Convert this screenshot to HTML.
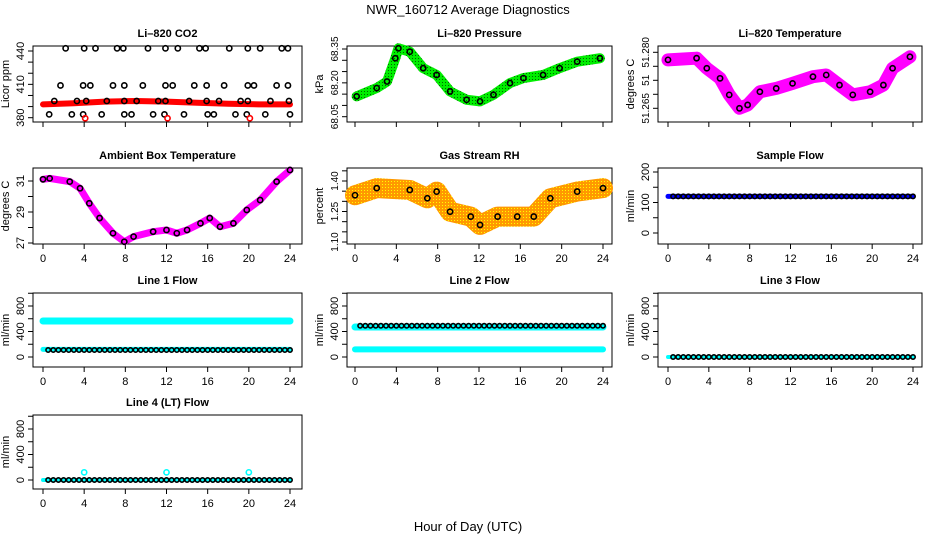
<!DOCTYPE html>
<html><head><meta charset="utf-8">
<style>
html,body{margin:0;padding:0;background:#fff;}
svg{display:block;font-family:"Liberation Sans",sans-serif;}
</style></head>
<body>
<svg id="c" width="936" height="540" viewBox="0 0 936 540">
<defs>
<pattern id="rhpat" width="3" height="3" patternUnits="userSpaceOnUse"><rect width="3" height="3" fill="#ff9900"/><rect x="1" y="1" width="1" height="1" fill="#ffff00"/></pattern>
<pattern id="grpat" width="3" height="3" patternUnits="userSpaceOnUse"><rect width="3" height="3" fill="#00ee00"/><rect x="1" y="1" width="1" height="1" fill="#006600"/></pattern>
</defs>
<text x="468" y="14" text-anchor="middle" font-size="13">NWR_160712  Average Diagnostics</text>
<text x="468" y="531" text-anchor="middle" font-size="13">Hour of Day (UTC)</text>
</svg>
<script>
// ---- data ----
const xTicks = [0,4,8,12,16,20,24];
// CO2
const co2BandHours = [0,3,6,9,12,15,18,21,24];
const co2BandVals = [392,393,394.5,395,394.5,393.5,392.5,392,392];
const co2TopHours = [2.2,4.0,5.1,7.2,7.8,10.2,11.9,13.1,15.2,15.8,18.1,19.9,21.1,23.2,23.8];
const co2MidHours = [1.7,3.9,4.6,6.8,7.9,9.7,11.9,12.6,14.7,15.9,17.6,19.9,20.5,22.7,23.8];
const co2LowHours = [1.1,3.3,4.2,6.2,7.9,9.1,11.2,11.9,14.2,15.9,17.1,19.2,19.9,22.1,23.9];
const co2BotHours = [0.6,2.8,3.9,5.7,7.9,8.6,10.7,11.8,13.7,16.0,16.6,18.7,19.8,21.6,24.0];
const co2RowVals = [442.4,409,395,383];
const co2RedHours = [4.1,12.1,20.1];
const co2RedVal = 379.5;
// Pressure
const presHours = [0.16,2.1,3.1,3.9,4.2,5.3,6.6,7.9,9.2,10.8,12.1,13.4,15.0,16.3,18.2,19.8,21.5,23.7];
const presVals = [68.14,68.177,68.206,68.309,68.353,68.338,68.265,68.235,68.162,68.125,68.118,68.147,68.199,68.221,68.235,68.265,68.294,68.309];
// Li-820 temperature
const tempHours = [0,2.8,3.8,5.1,6.0,7.0,7.8,9.0,10.6,12.2,14.2,15.5,16.8,18.1,19.8,21.1,22.0,23.7];
const tempVals = [51.2823,51.2829,51.2793,51.2757,51.2698,51.265,51.2662,51.2709,51.2721,51.2739,51.2763,51.2769,51.2733,51.2698,51.2709,51.2733,51.2793,51.2834];
// Ambient box temperature
const ambHours = [0,0.65,2.6,3.6,4.5,5.5,6.8,7.9,8.8,10.7,12.0,13.0,14.0,15.3,16.2,17.2,18.5,19.8,21.1,22.7,24];
const ambVals = [31.11,31.17,30.96,30.53,29.56,28.61,27.63,27.08,27.41,27.73,27.84,27.63,27.84,28.27,28.61,28.05,28.27,29.13,29.77,30.96,31.71];
// RH
const rhHours = [0,2.1,5.3,7.0,7.9,9.2,11.2,12.1,13.8,15.7,17.3,18.9,21.5,24];
const rhVals = [1.33,1.365,1.356,1.315,1.348,1.249,1.225,1.184,1.225,1.225,1.225,1.315,1.348,1.365];
// Flows
const flowHours = [0.5,1,1.5,2,2.5,3,3.5,4,4.5,5,5.5,6,6.5,7,7.5,8,8.5,9,9.5,10,10.5,11,11.5,12,12.5,13,13.5,14,14.5,15,15.5,16,16.5,17,17.5,18,18.5,19,19.5,20,20.5,21,21.5,22,22.5,23,23.5,24];
const sampleFlow = 120;
const line1Hi = 565, line1Lo = 120, line1Black = 110;
const line2Hi = 470, line2Lo = 120, line2Black = 490;
const line3Val = 0;
const line4Val = 0, line4Spikes = [4,12,20], line4SpikeVal = 120;

// ---- layout ----
const svg = document.getElementById('c');
const NS = 'http://www.w3.org/2000/svg';
function mk(tag, attrs, parent){const e=document.createElementNS(NS,tag);for(const k in attrs)e.setAttribute(k,attrs[k]);(parent||svg).appendChild(e);return e;}
const cols = [{l:33,r:302,x0:43,x24:290},{l:347,r:612,x0:355,x24:603},{l:658,r:922,x0:668,x24:913}];
const rows = [{t:46,b:122},{t:168,b:244},{t:293,b:367},{t:415,b:489}];

function panel(name,title,ci,ri,ylab,v1,y1,v2,y2,ticks,labels,showX,fs){
  const c=cols[ci],r=rows[ri];
  const g=mk('g',{});
  
  
  const X=h=>c.x0+(c.x24-c.x0)*h/24;
  const Y=v=>y1+(v-v1)*(y2-y1)/(v2-v1);
  const t=mk('text',{x:(c.l+c.r)/2,y:r.t-9,'text-anchor':'middle','font-size':11,'font-weight':'bold'},g);
  t.textContent=title;
  
  
  const box=mk('rect',{x:c.l,y:r.t,width:c.r-c.l,height:r.b-r.t,fill:'none',stroke:'#000','stroke-width':1},g);
  
  
  const xa=mk('g',{},g);
  
  
  mk('line',{x1:X(0),x2:X(24),y1:r.b,y2:r.b,stroke:'#000'},xa);
  xTicks.forEach(h=>{mk('line',{x1:X(h),x2:X(h),y1:r.b,y2:r.b+5,stroke:'#000'},xa);
    if(showX){const tl=mk('text',{x:X(h),y:r.b+18,'text-anchor':'middle','font-size':11},xa);tl.textContent=h;}});
  const ya=mk('g',{},g);
  
  
  mk('line',{x1:c.l,x2:c.l,y1:Y(ticks[0]),y2:Y(ticks[ticks.length-1]),stroke:'#000'},ya);
  ticks.forEach((v,i)=>{mk('line',{x1:c.l-5,x2:c.l,y1:Y(v),y2:Y(v),stroke:'#000'},ya);
    if(labels[i]){const yl=mk('text',{x:0,y:0,'text-anchor':'middle','font-size':fs||11,transform:`translate(${c.l-9},${Y(v)}) rotate(-90)`},ya);yl.textContent=labels[i];}});
  const yt=mk('text',{x:0,y:0,'text-anchor':'middle','font-size':11,transform:`translate(${c.l-24},${(r.t+r.b)/2}) rotate(-90)`},g);
  yt.textContent=ylab;
  
  
  const clip=mk('g',{},g);
  return {g:clip,X,Y};
}
function band(p,hours,vals,stroke,w,name){
  const pl=mk('polyline',{points:hours.map((h,i)=>p.X(h)+','+p.Y(vals[i])).join(' '),fill:'none',stroke:stroke,'stroke-width':w,'stroke-linejoin':'round','stroke-linecap':'round'},p.g);
  
  
}
function circles(p,hours,vals,col,name,rad){
  const g=mk('g',{},p.g);
  
  
  hours.forEach((h,i)=>{const v=Array.isArray(vals)?vals[i]:vals;mk('circle',{cx:p.X(h),cy:p.Y(v),r:rad||2.6,fill:'none',stroke:col,'stroke-width':1.6},g);});
}

// CO2
let p=panel('co2','Li\u2013820 CO2',0,0,'Licor ppm',380,117.7,440,51,[380,390,400,410,420,430,440],['380','','','410','','','440'],false);
band(p,co2BandHours,co2BandVals,'#ff0000',6,'co2-red-series');
circles(p,co2TopHours,co2RowVals[0],'#000','co2-points-top');
circles(p,co2MidHours,co2RowVals[1],'#000','co2-points-mid');
circles(p,co2LowHours,co2RowVals[2],'#000','co2-points-low');
circles(p,co2BotHours,co2RowVals[3],'#000','co2-points-bottom');
circles(p,co2RedHours,co2RedVal,'#ff0000','co2-red-outliers');
// Pressure
p=panel('pressure','Li\u2013820 Pressure',1,0,'kPa',68.05,116.7,68.35,49,[68.05,68.10,68.15,68.20,68.25,68.30,68.35],['68.05','','','68.20','','','68.35'],false,10);
band(p,presHours,presVals,'url(#grpat)',10,'pressure-green-series');
circles(p,presHours,presVals,'#000','pressure-points');
// Temperature
p=panel('li820-temp','Li\u2013820 Temperature',2,0,'degrees C',51.265,108.3,51.285,52.3,[51.265,51.27,51.275,51.28,51.285],['51.265','','51','','51.280'],false,10);
band(p,tempHours,tempVals,'#ff00ff',13,'li820-temp-magenta-series');
circles(p,tempHours,tempVals,'#000','li820-temp-points');
// Ambient
p=panel('ambient','Ambient Box Temperature',0,1,'degrees C',27,243,31,181,[27,28,29,30,31],['27','','29','','31'],true);
band(p,ambHours,ambVals,'#ff00ff',7,'ambient-magenta-series');
circles(p,ambHours,ambVals,'#000','ambient-points');
// RH
p=panel('rh','Gas Stream RH',1,1,'percent',1.10,242,1.40,181,[1.10,1.15,1.20,1.25,1.30,1.35,1.40,1.45],['1.10','','','1.25','','','1.40',''],true,10);
band(p,rhHours,rhVals,'url(#rhpat)',20,'rh-orange-series');
circles(p,rhHours,rhVals,'#000','rh-points');
// Sample flow
p=panel('sample-flow','Sample Flow',2,1,'ml/min',0,233,200,172,[0,50,100,150,200],['0','','100','','200'],true);
band(p,[0,24],[sampleFlow,sampleFlow],'#0000ff',5,'sample-flow-blue-series');
circles(p,flowHours,sampleFlow,'#000','sample-flow-points',2.2);
// Line flows
const fT=[0,200,400,600,800,1000], fL=['0','','400','','800',''];
p=panel('line1','Line 1 Flow',0,2,'ml/min',0,357,800,306,fT,fL,true);
band(p,[0,24],[line1Hi,line1Hi],'#00ffff',7,'line1-cyan-high');
band(p,[0,24],[line1Lo,line1Lo],'#00ffff',5,'line1-cyan-low');
circles(p,flowHours,line1Black,'#000','line1-points',2.2);
p=panel('line2','Line 2 Flow',1,2,'ml/min',0,357,800,306,fT,fL,true);
band(p,[0,24],[line2Hi,line2Hi],'#00ffff',7,'line2-cyan-high');
band(p,[0,24],[line2Lo,line2Lo],'#00ffff',6,'line2-cyan-low');
circles(p,flowHours,line2Black,'#000','line2-points',2.2);
p=panel('line3','Line 3 Flow',2,2,'ml/min',0,357,800,306,fT,fL,true);
band(p,[0,24],[line3Val,line3Val],'#00ffff',4,'line3-cyan-series');
circles(p,flowHours,line3Val,'#000','line3-points',2.2);
p=panel('line4','Line 4 (LT) Flow',0,3,'ml/min',0,480,800,429,fT,fL,true);
band(p,[0,24],[line4Val,line4Val],'#00ffff',4,'line4-cyan-series');
circles(p,flowHours,line4Val,'#000','line4-points',2.2);
circles(p,line4Spikes,line4SpikeVal,'#00ffff','line4-cyan-spikes');
</script>
</body></html>
